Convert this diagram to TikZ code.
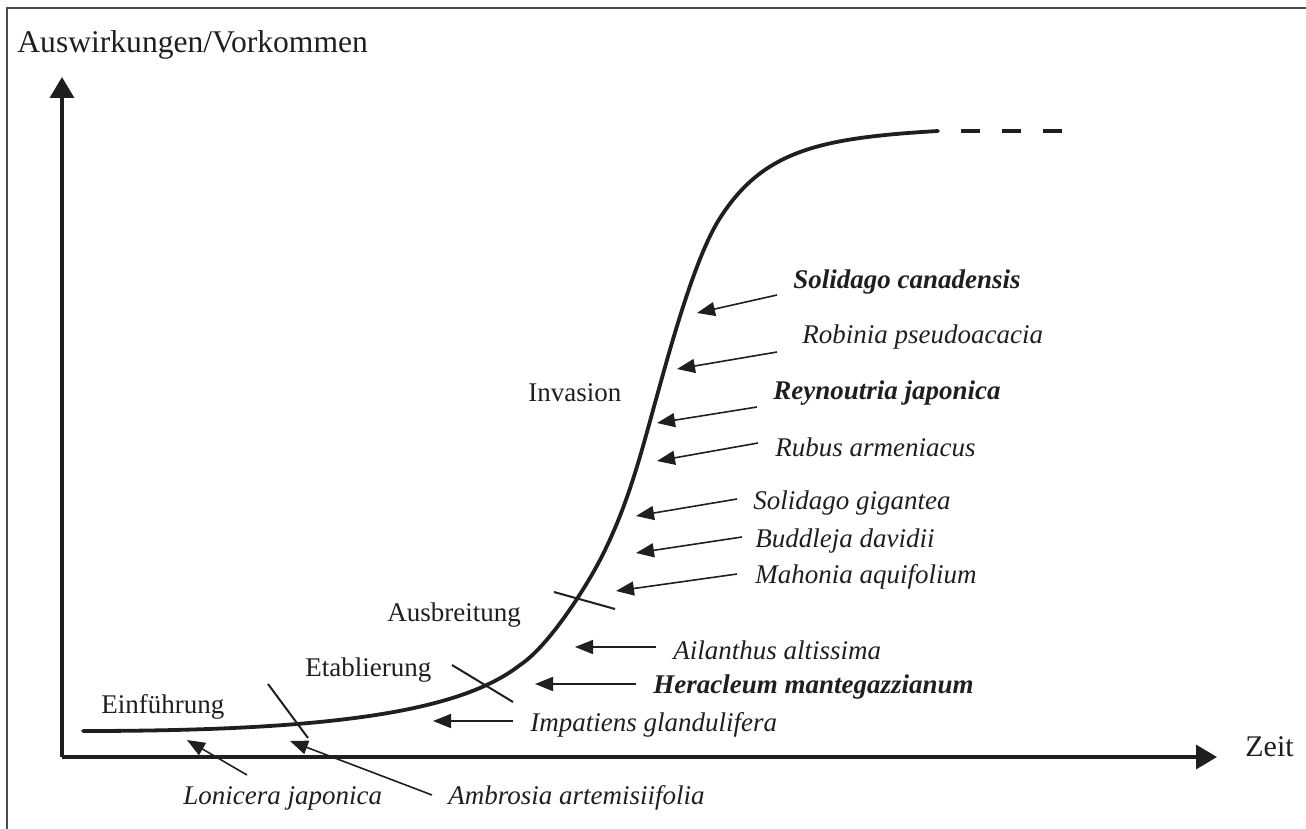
\documentclass[tikz,border=0pt]{standalone}
\usepackage{fontspec}
\setmainfont{Liberation Serif}
\usetikzlibrary{arrows.meta}
\begin{document}
\begin{tikzpicture}[x=0.5pt,y=-0.5pt,
  stage/.style={font=\fontsize{13.5}{16}\selectfont, text=black!88, inner sep=0pt, anchor=west},
  sp/.style={font=\fontsize{13.5}{16}\selectfont\itshape, text=black!88, inner sep=0pt, anchor=west},
  spb/.style={font=\fontsize{13.5}{16}\selectfont\bfseries\itshape, text=black!88, inner sep=0pt, anchor=west},
  big/.style={font=\fontsize{15.8}{18}\selectfont, text=black!88, inner sep=0pt, anchor=west},
  arr/.style={draw=black!88, line width=0.8pt, -{Triangle[length=9pt,width=7pt]}},
  axis/.style={draw=black!88, line width=1.7pt, -{Triangle[length=10.5pt,width=12pt]}},
  tickline/.style={draw=black!88, line width=1pt},
  curve/.style={draw=black!88, line width=1.9pt, line cap=round, line join=round},
  frame/.style={draw=black!70, line width=0.8pt}
]
\useasboundingbox (0,0) rectangle (1306,829);
% frame
\draw[frame] (7,829) -- (7,8) -- (1306,8);

% axes
\coordinate (O) at (62,757);
\coordinate (ytip) at (62,77);
\coordinate (xtip) at (1217,757);
\draw[axis] (O) -- (ytip);
\draw[axis] (O) -- (xtip);
\node[big] (ylab) at (17,45) {Auswirkungen/Vorkommen};
\node[big, font=\fontsize{15}{18}\selectfont] (xlab) at (1245,747) {Zeit};

% S-curve
\coordinate (cA) at (83,731);
\coordinate (cB) at (520,665);
\coordinate (cC) at (600,560);
\coordinate (cD) at (660,385);
\coordinate (cE) at (720,218);
\coordinate (cF) at (938,131);
\draw[curve] (cA) .. controls (330,731) and (460,712) .. (cB)
                  .. controls (549,646) and (586,587) .. (cC)
                  .. controls (630,502) and (642.5,447) .. (cD)
                  .. controls (676,327) and (698,252) .. (cE)
                  .. controls (763,151) and (818,138) .. (cF);
\coordinate (dA) at (961,131);
\coordinate (dB) at (1064,131);
\draw[draw=black!88, line width=2pt, dash pattern=on 9.5pt off 11pt] (dA) -- (dB);

% phase ticks
\draw[tickline] (268,684) -- (308,738);
\draw[tickline] (452,665) -- (513,702);
\draw[tickline] (554,592) -- (615,609);

% phase labels
\node[stage] (einf) at (101,707) {Einführung};
\node[stage] (etab) at (305,670) {Etablierung};
\node[stage] (ausb) at (387,615) {Ausbreitung};
\node[stage] (inva) at (528,393) {Invasion};

% species labels
\node[spb] (sc) at (793,282) {Solidago canadensis};
\node[sp]  (rp) at (802,337) {Robinia pseudoacacia};
\node[spb] (rj) at (773,393) {Reynoutria japonica};
\node[sp]  (ra) at (775,447) {Rubus armeniacus};
\node[sp]  (sg) at (753,503) {Solidago gigantea};
\node[sp]  (bd) at (755,541) {Buddleja davidii};
\node[sp]  (ma) at (755,577) {Mahonia aquifolium};
\node[sp]  (aa) at (673,650) {Ailanthus altissima};
\node[spb] (hm) at (653,687) {Heracleum mantegazzianum};
\node[sp]  (ig) at (530,725) {Impatiens glandulifera};
\node[sp]  (lj) at (183,798) {Lonicera japonica};
\node[sp]  (ar) at (448,798) {Ambrosia artemisiifolia};

% arrow ends
\coordinate (scS) at (777,295); \coordinate (scT) at (697,313);
\coordinate (rpS) at (777,352); \coordinate (rpT) at (677,369);
\coordinate (rjS) at (757,407); \coordinate (rjT) at (657,423);
\coordinate (raS) at (758,443); \coordinate (raT) at (657,461);
\coordinate (sgS) at (737,499); \coordinate (sgT) at (636,516);
\coordinate (bdS) at (742,537); \coordinate (bdT) at (636,553);
\coordinate (maS) at (737,574); \coordinate (maT) at (616,591);
\coordinate (aaS) at (656,647); \coordinate (aaT) at (575,647);
\coordinate (hmS) at (636,684); \coordinate (hmT) at (535,684);
\coordinate (igS) at (513,721); \coordinate (igT) at (433,721);
\coordinate (ljS) at (247,775); \coordinate (ljT) at (187,740);
\coordinate (arS) at (432,795); \coordinate (arT) at (290,741);

\foreach \k in {sc,rp,rj,ra,sg,bd,ma,aa,hm,ig,lj,ar}
  \draw[arr] (\k S) -- (\k T);
\end{tikzpicture}
\end{document}
